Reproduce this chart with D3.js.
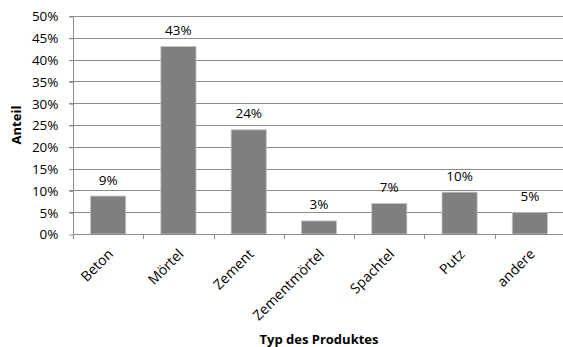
<!DOCTYPE html>
<html>
<head>
<meta charset="utf-8">
<script src="https://cdn.jsdelivr.net/npm/d3@7"></script>
<style>
  html, body { margin: 0; padding: 0; background: #fff; overflow: hidden; }
  svg { display: block; font-family: "Open Sans", "Noto Sans", sans-serif; }
</style>
</head>
<body>
<svg id="chart" width="563" height="347"></svg>
<script>
// Product types and their share
const categories = ["Beton", "Mörtel", "Zement", "Zementmörtel", "Spachtel", "Putz", "andere"];
const shares = [0.087, 0.43, 0.239, 0.03, 0.07, 0.096, 0.049];
const yTicks = [0, 0.05, 0.10, 0.15, 0.20, 0.25, 0.30, 0.35, 0.40, 0.45, 0.50];
const xTitle = "Typ des Produktes";
const yTitle = "Anteil";

const svg = d3.select("#chart");
const plot = { left: 73, right: 565, top: 16, bottom: 234 };

const x = d3.scaleBand().domain(categories).range([plot.left, plot.right]).paddingInner(0.5).paddingOuter(0.25);
const xEdge = d3.scaleLinear().domain([0, categories.length]).range([plot.left, plot.right]);
const y = d3.scaleLinear().domain([0, 0.5]).range([plot.bottom, plot.top]);
const pct = d3.format(".0%");

// Horizontal gridlines
svg.append("g")
  .selectAll("line")
  .data(yTicks.slice(1))
  .join("line")
  .attr("x1", plot.left - 4).attr("x2", plot.right)
  .attr("y1", d => Math.round(y(d)) + 0.5).attr("y2", d => Math.round(y(d)) + 0.5)
  .attr("stroke", "#8c8c8c").attr("stroke-width", 1);

// Y axis
const yAxis = d3.axisLeft(y).tickValues(yTicks).tickFormat(pct).tickSize(4).tickPadding(11);
const gy = svg.append("g").attr("transform", `translate(${plot.left + 0.5},0.5)`).call(yAxis);
gy.select(".domain").attr("stroke", "#8c8c8c").attr("d", `M0,${plot.top}V${plot.bottom}`);
gy.selectAll(".tick line").attr("stroke", "#8c8c8c");
gy.selectAll(".tick text").attr("fill", "#000").style("font-size", "13.5px").style("font-family", "Open Sans");

// Bars
svg.append("g")
  .selectAll("rect")
  .data(categories)
  .join("rect")
  .attr("x", d => x(d))
  .attr("y", (d, i) => y(shares[i]))
  .attr("width", x.bandwidth())
  .attr("height", (d, i) => y(0) - y(shares[i]))
  .attr("fill", "#7f7f7f")
  .attr("stroke", "#c4c4c4")
  .attr("stroke-width", 0.8);

// X axis line and category boundary ticks
svg.append("line")
  .attr("x1", plot.left).attr("x2", plot.right)
  .attr("y1", plot.bottom + 0.5).attr("y2", plot.bottom + 0.5)
  .attr("stroke", "#8c8c8c");
svg.append("g")
  .selectAll("line")
  .data(d3.range(categories.length + 1))
  .join("line")
  .attr("x1", d => Math.round(xEdge(d)) + 0.5).attr("x2", d => Math.round(xEdge(d)) + 0.5)
  .attr("y1", plot.bottom).attr("y2", plot.bottom + 5)
  .attr("stroke", "#8c8c8c");

// Category labels, rotated
svg.append("g")
  .selectAll("text")
  .data(categories)
  .join("text")
  .attr("transform", d => `translate(${x(d) + x.bandwidth() / 2 + 6},${plot.bottom + 21}) rotate(-45)`)
  .attr("text-anchor", "end")
  .attr("fill", "#000")
  .style("font-size", "14px")
  .text(d => d);

// Value labels
svg.append("g")
  .selectAll("text")
  .data(categories)
  .join("text")
  .attr("x", d => x(d) + x.bandwidth() / 2)
  .attr("y", (d, i) => y(shares[i]) - 11.5)
  .attr("text-anchor", "middle")
  .attr("fill", "#000")
  .style("font-size", "13.5px")
  .text((d, i) => pct(shares[i]));

// Axis titles
svg.append("text")
  .attr("x", 319).attr("y", 344)
  .attr("text-anchor", "middle")
  .style("font-size", "13px").style("font-weight", "bold")
  .text(xTitle);
svg.append("text")
  .attr("transform", `translate(21,${(plot.top + plot.bottom) / 2}) rotate(-90)`)
  .attr("text-anchor", "middle")
  .style("font-size", "13px").style("font-weight", "bold")
  .text(yTitle);
</script>
</body>
</html>
